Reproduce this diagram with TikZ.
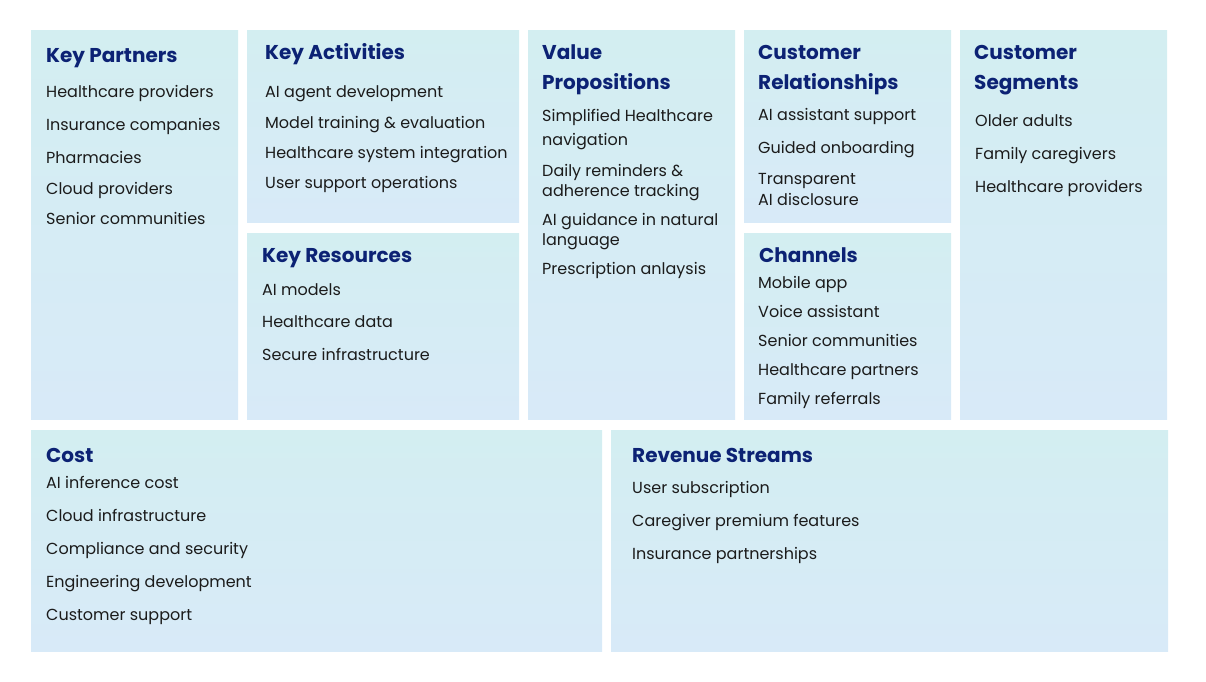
\documentclass[tikz,border=0pt]{standalone}
\usepackage{fontspec}
\setmainfont{Poppins}
\definecolor{boxtop}{HTML}{D3EEF1}
\definecolor{boxbot}{HTML}{D8EAF8}
\definecolor{navy}{HTML}{0C2274}
\definecolor{ink}{HTML}{1B1B1B}

\begin{document}
\begin{tikzpicture}[x=1pt, y=-1pt,
    block/.style={top color=boxtop, bottom color=boxbot, draw=none},
    head/.style={anchor=west, inner sep=0pt, text=navy, text height=18pt, text depth=4pt,
      font=\fontsize{20}{24}\selectfont\bfseries},
    item/.style={anchor=west, inner sep=0pt, text=ink, text height=15pt, text depth=3pt,
      font=\fontsize{16}{19}\selectfont}]
  \useasboundingbox (0,0) rectangle (1206,681);

  % blocks
  \path[block] (31,30) rectangle (238,419);
  \path[block] (247,30) rectangle (519,222);
  \path[block] (247,233) rectangle (519,419);
  \path[block] (528,30) rectangle (735,419);
  \path[block] (744,30) rectangle (951,222);
  \path[block] (744,233) rectangle (951,419);
  \path[block] (960,30) rectangle (1167,419);
  \path[block] (31,430) rectangle (602,651);
  \path[block] (611,430) rectangle (1168,651);

  % key partners
  \node[head] (kphead) at (46,55) {Key Partners};
  \foreach \t/\y [count=\i] in {Healthcare providers/91, Insurance companies/124,
      Pharmacies/157, Cloud providers/188, Senior communities/218}
    \node[item] (kp\i) at (46,\y) {\t};

  % key activities
  \node[head] (kahead) at (265,52) {Key Activities};
  \foreach \t/\y [count=\i] in {AI agent development/91, Model training \& evaluation/122,
      Healthcare system integration/152, User support operations/182}
    \node[item] (ka\i) at (265,\y) {\t};

  % key resources
  \node[head] (krhead) at (262,255) {Key Resources};
  \foreach \t/\y [count=\i] in {AI models/289, Healthcare data/321, Secure infrastructure/354}
    \node[item] (kr\i) at (262,\y) {\t};

  % value propositions
  \node[head] (vphead) at (542,52) {Value};
  \node[head] (vphead2) at (542,82) {Propositions};
  \foreach \t/\y [count=\i] in {Simplified Healthcare/115, navigation/139,
      Daily reminders \&/170, adherence tracking/190, AI guidance in natural/219,
      language/239, Prescription anlaysis/268}
    \node[item] (vp\i) at (542,\y) {\t};

  % customer relationships
  \node[head] (crhead) at (758,52) {Customer};
  \node[head] (crhead2) at (758,82) {Relationships};
  \foreach \t/\y [count=\i] in {AI assistant support/114, Guided onboarding/147,
      Transparent/178, AI disclosure/199}
    \node[item] (cr\i) at (758,\y) {\t};

  % channels
  \node[head] (chhead) at (759,255) {Channels};
  \foreach \t/\y [count=\i] in {Mobile app/282, Voice assistant/311, Senior communities/340,
      Healthcare partners/369, Family referrals/398}
    \node[item] (ch\i) at (758,\y) {\t};

  % customer segments
  \node[head] (cshead) at (974,52) {Customer};
  \node[head] (cshead2) at (974,82) {Segments};
  \foreach \t/\y [count=\i] in {Older adults/120, Family caregivers/153, Healthcare providers/186}
    \node[item] (cs\i) at (975,\y) {\t};

  % cost
  \node[head] (cohead) at (46,455) {Cost};
  \foreach \t/\y [count=\i] in {AI inference cost/482, Cloud infrastructure/515,
      Compliance and security/548, Engineering development/581, Customer support/614}
    \node[item] (co\i) at (46,\y) {\t};

  % revenue streams
  \node[head] (rshead) at (632,455) {Revenue Streams};
  \foreach \t/\y [count=\i] in {User subscription/487, Caregiver premium features/520,
      Insurance partnerships/553}
    \node[item] (rs\i) at (632,\y) {\t};
\end{tikzpicture}
\end{document}
